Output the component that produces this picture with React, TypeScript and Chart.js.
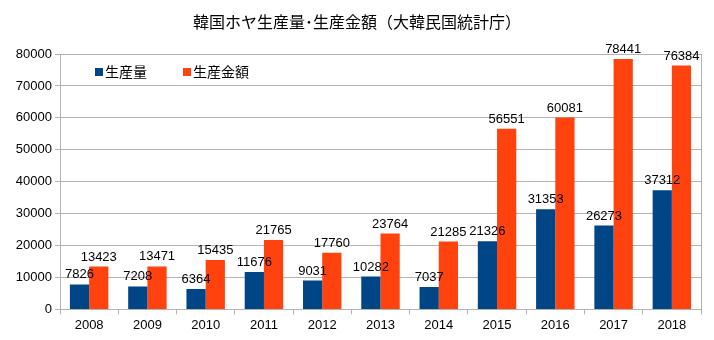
import React, { useEffect, useRef } from "react";
import { Chart, registerables } from "chart.js";

Chart.register(...registerables);

const titleText = "韓国ホヤ生産量･生産金額（大韓民国統計庁）";
const categories = ["2008", "2009", "2010", "2011", "2012", "2013", "2014", "2015", "2016", "2017", "2018"];
const seriesNames = ["生産量", "生産金額"];
const volume = [7826, 7208, 6364, 11676, 9031, 10282, 7037, 21326, 31353, 26273, 37312];
const amount = [13423, 13471, 15435, 21765, 17760, 23764, 21285, 56551, 60081, 78441, 76384];
const colors = ["#004586", "#ff420e"];

const FONT = "'Liberation Sans', Arial, sans-serif";
const CJK = "'Noto Sans CJK JP', 'Noto Sans', sans-serif";

const overlay = {
  id: "overlay",
  afterDatasetsDraw(chart: any) {
    const { ctx, chartArea } = chart;
    ctx.save();
    ctx.font = `13px ${FONT}`;
    ctx.fillStyle = "#000";
    ctx.textAlign = "center";
    ctx.textBaseline = "bottom";
    chart.data.datasets.forEach((ds: any, i: number) => {
      const meta = chart.getDatasetMeta(i);
      meta.data.forEach((bar: any, j: number) => {
        ctx.fillText(String(ds.data[j]), bar.x, bar.y - 3);
      });
    });
    ctx.strokeStyle = "#b3b3b3";
    ctx.lineWidth = 1;
    ctx.beginPath();
    ctx.moveTo(Math.round(chartArea.right) + 0.5, chartArea.top);
    ctx.lineTo(Math.round(chartArea.right) + 0.5, chartArea.bottom + 5);
    ctx.stroke();
    ctx.font = `14px ${CJK}`;
    ctx.textAlign = "left";
    ctx.textBaseline = "middle";
    const ly = chartArea.top + 18;
    let lx = chartArea.left + 35;
    seriesNames.forEach((name, i) => {
      ctx.fillStyle = colors[i];
      ctx.fillRect(lx, ly - 4, 8, 8);
      ctx.fillStyle = "#000";
      ctx.fillText(name, lx + 10, ly);
      lx += 88;
    });
    ctx.font = `16px ${CJK}`;
    ctx.textAlign = "center";
    ctx.fillText(titleText, chart.width / 2, 22);
    ctx.restore();
  },
};

export default function App() {
  const ref = useRef<HTMLCanvasElement>(null);
  useEffect(() => {
    document.body.style.margin = "0";
    const chart = new Chart(ref.current!, {
      type: "bar",
      data: {
        labels: categories,
        datasets: [
          { label: seriesNames[0], data: volume, backgroundColor: colors[0], categoryPercentage: 0.66, barPercentage: 1 },
          { label: seriesNames[1], data: amount, backgroundColor: colors[1], categoryPercentage: 0.66, barPercentage: 1 },
        ],
      },
      options: {
        animation: false,
        responsive: false,
        layout: { padding: { top: 54, left: 4, right: 13, bottom: 4 } },
        plugins: { legend: { display: false }, title: { display: false }, tooltip: { enabled: false } },
        scales: {
          x: {
            grid: { offset: true, drawOnChartArea: false, drawTicks: true, tickLength: 5, color: "#b3b3b3" },
            border: { color: "#b3b3b3" },
            ticks: { color: "#000", font: { family: FONT, size: 13 }, padding: 3 },
          },
          y: {
            min: 0,
            max: 80000,
            afterFit: (s: any) => { s.width = 56; },
            grid: { color: "#b3b3b3", tickLength: 5 },
            border: { color: "#b3b3b3" },
            ticks: { stepSize: 10000, color: "#000", font: { family: FONT, size: 13 }, padding: 3, callback: (v: any) => String(v) },
          },
        },
      },
      plugins: [overlay],
    });
    return () => chart.destroy();
  }, []);
  return <canvas ref={ref} width={714} height={340} style={{ display: "block" }} />;
}
